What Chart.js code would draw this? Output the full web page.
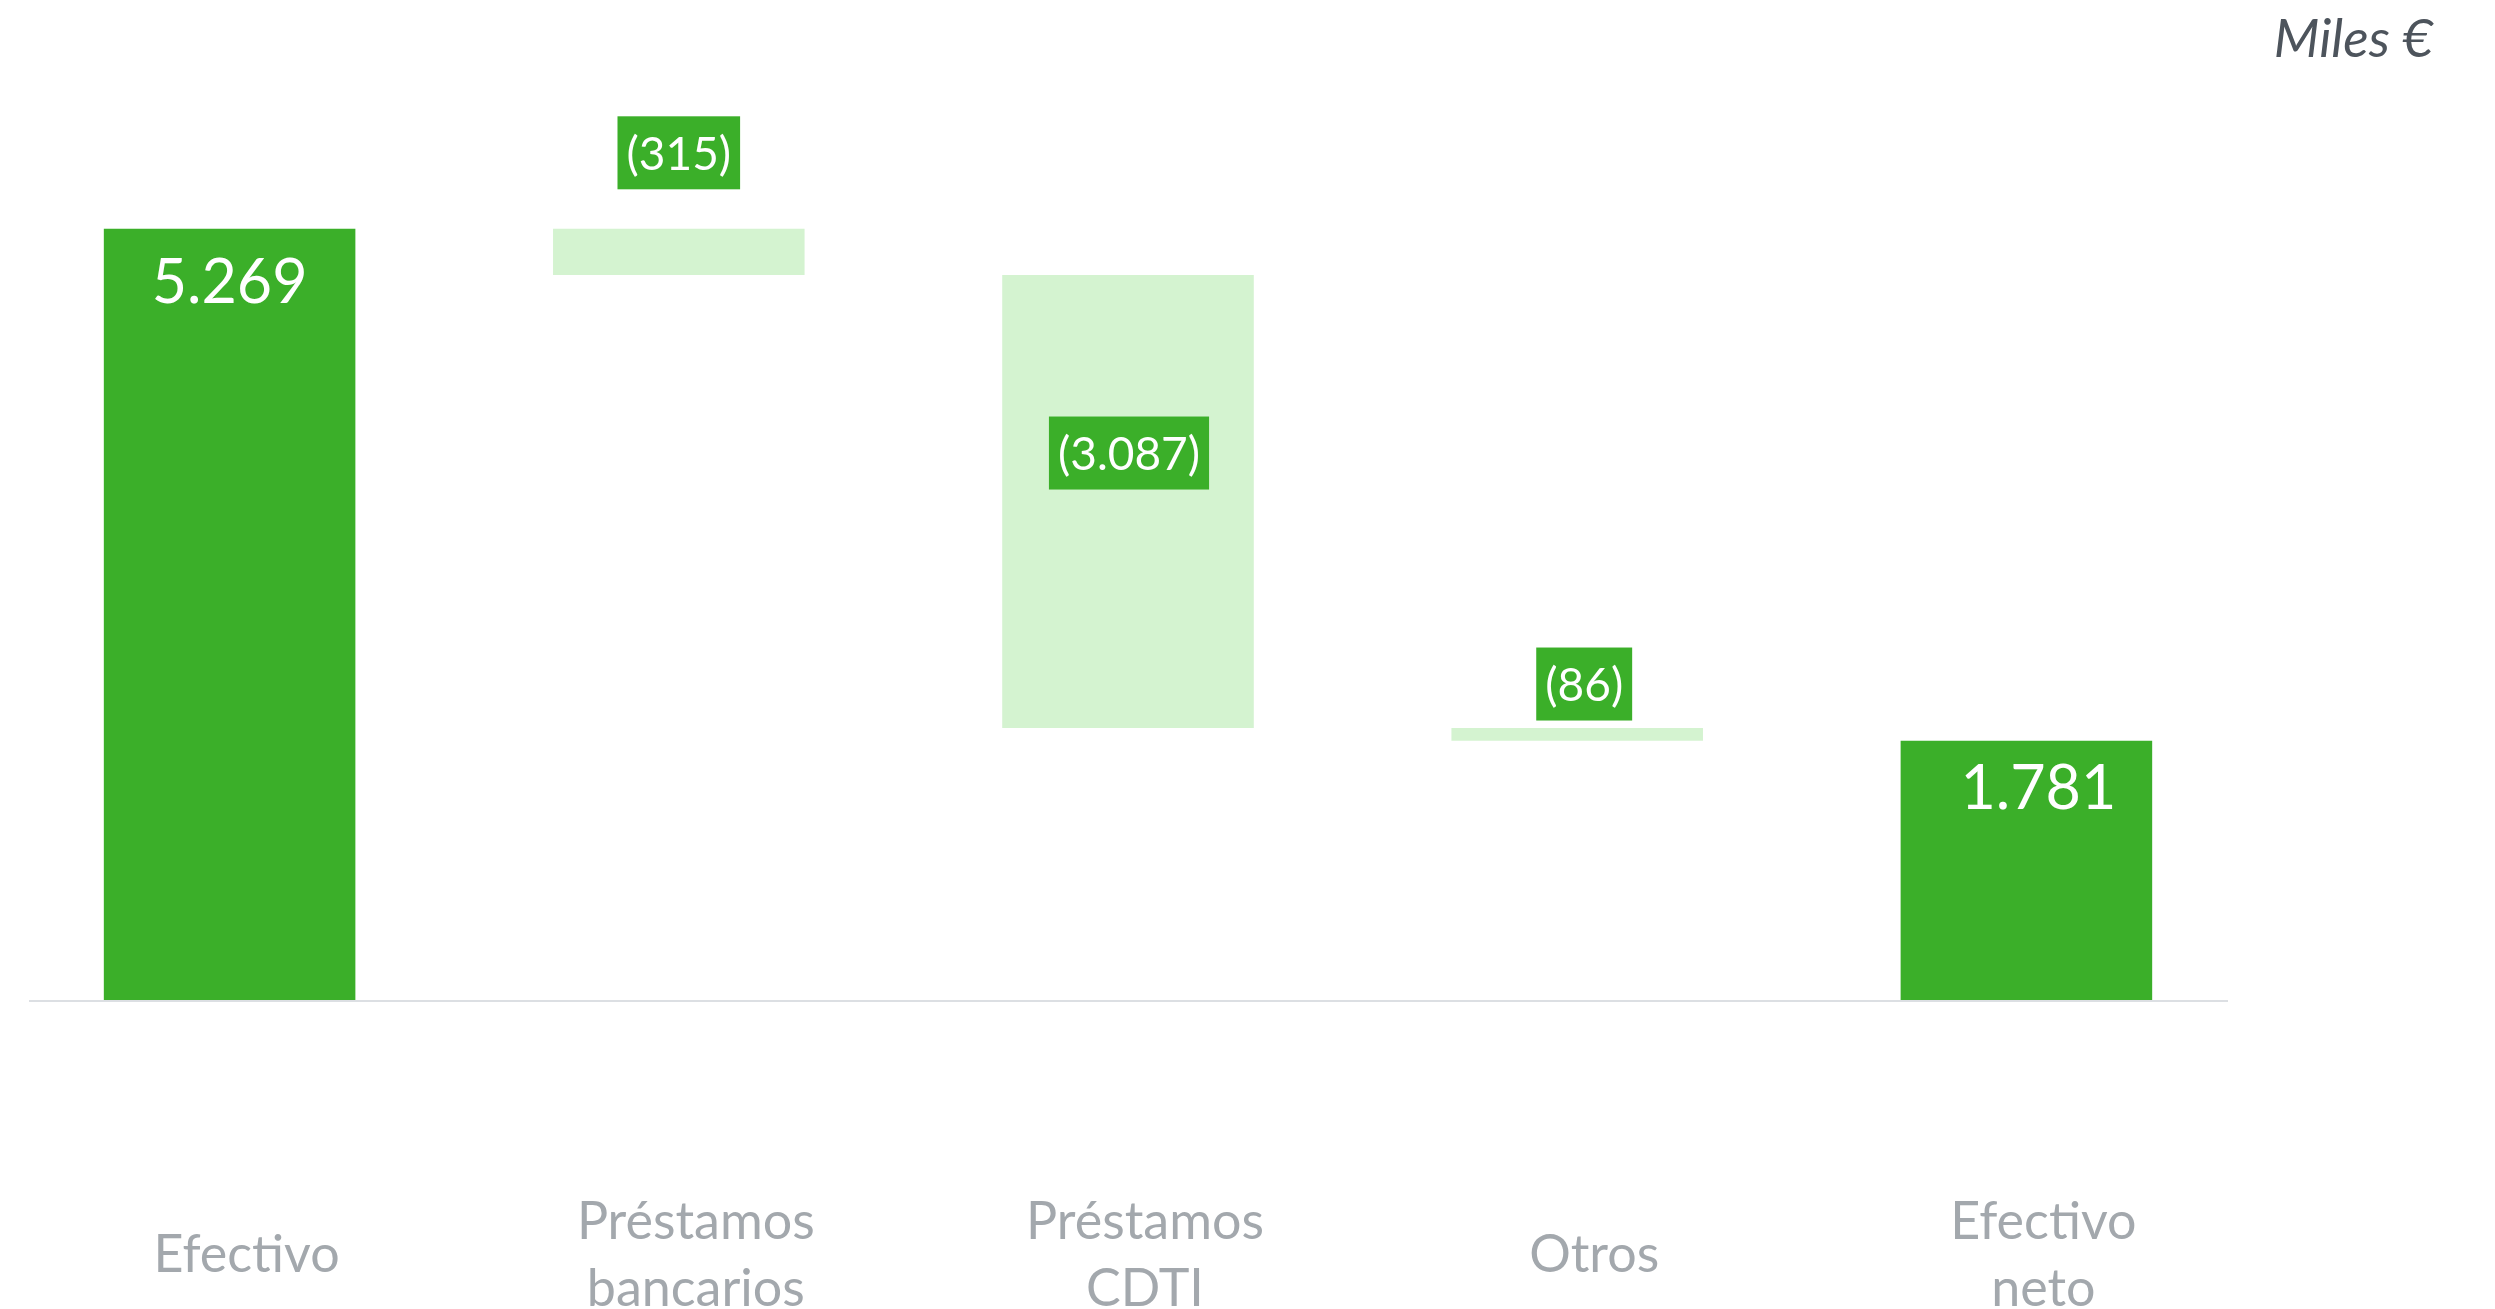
<!DOCTYPE html>
<html>
<head>
<meta charset="utf-8">
<script src="https://cdn.jsdelivr.net/npm/chart.js@4/dist/chart.umd.min.js"></script>
<style>
  html, body { margin: 0; padding: 0; background: #fff; overflow: hidden; }
  #wrap { width: 2495px; height: 1309px; position: relative; }
</style>
</head>
<body>
<div id="wrap"><canvas id="cashChart"></canvas></div>
<script>
// categorias (etiquetas del eje x, multilinea)
const categories = [
  ["Efectivo"],
  ["Préstamos", "bancarios"],
  ["Préstamos", "CDTI"],
  ["Otros"],
  ["Efectivo", "neto"]
];
// valores en miles de euros: total inicial, variaciones, total final
const values = [5269, -315, -3087, -86, 1781];
const isTotal = [true, false, false, false, true];
const valueLabels = ["5.269", "(315)", "(3.087)", "(86)", "1.781"];

const green = "#3BAF29";
const lightGreen = "#D4F3D0";

// construir barras flotantes de la cascada
let running = 0;
const floating = values.map(function(v, i) {
  if (isTotal[i]) {
    running = v;
    return [0, v];
  }
  const start = running;
  running = running + v;
  return [running, start];
});

// posicion de las etiquetas respecto a la parte superior de cada barra
const labelStyle = [
  { dy: 53, dx: 0, box: false, size: 61 },
  { dy: -76, dx: 0, box: true, size: 46 },
  { dy: 178, dx: 1, box: true, size: 46 },
  { dy: -44, dx: 7, box: true, size: 46 },
  { dy: 47, dx: 12, box: false, size: 61 }
];

const labelPlugin = {
  id: "labelPlugin",
  afterDraw(chart) {
    const ctx = chart.ctx;
    const area = chart.chartArea;
    ctx.save();
    // linea base
    const y0 = chart.scales.y.getPixelForValue(0);
    ctx.fillStyle = "#DCDFE3";
    ctx.fillRect(area.left + 24, y0 - 2, area.right - area.left - 47, 2);

    const bars = chart.getDatasetMeta(0).data;
    bars.forEach(function(bar, i) {
      const st = labelStyle[i];
      const top = Math.min(bar.y, bar.base);
      const cx = bar.x + st.dx;
      const cy = top + st.dy;
      ctx.font = st.size + "px Lato, 'Open Sans', sans-serif";
      ctx.textAlign = "center";
      ctx.textBaseline = "middle";
      if (st.box) {
        const w = ctx.measureText(valueLabels[i]).width + 18;
        ctx.fillStyle = green;
        ctx.fillRect(cx - w / 2, cy - 36.5, w, 73);
      }
      ctx.fillStyle = "#FFFFFF";
      ctx.fillText(valueLabels[i], cx, cy + 2);
    });

    // unidades
    ctx.font = "italic 53px Lato, 'Open Sans', sans-serif";
    ctx.fillStyle = "#4D545C";
    ctx.textAlign = "right";
    ctx.textBaseline = "middle";
    ctx.fillText("Miles €", 2433, 40);
    ctx.restore();
  }
};

const cashChart = new Chart(document.getElementById("cashChart"), {
  type: "bar",
  data: {
    labels: categories,
    datasets: [{
      data: floating,
      backgroundColor: isTotal.map(t => t ? green : lightGreen),
      borderWidth: 0,
      barPercentage: 0.56,
      categoryPercentage: 1.0
    }]
  },
  options: {
    responsive: true,
    maintainAspectRatio: false,
    animation: false,
    layout: { padding: { left: 5, right: 244, top: 123, bottom: 0 } },
    plugins: {
      legend: { display: false },
      tooltip: { enabled: false }
    },
    scales: {
      y: {
        display: false,
        min: 0,
        max: 5990
      },
      x: {
        grid: { display: false, drawTicks: false },
        border: { display: false },
        afterFit: function(scale) {
          scale.height = 307;
          scale.paddingLeft = 0;
          scale.paddingRight = 0;
        },
        ticks: {
          color: "#A3A8AD",
          font: { family: "Lato, 'Open Sans', sans-serif", size: 52, lineHeight: 1.29 },
          padding: 220,
          labelOffset: 17,
          crossAlign: "center",
          maxRotation: 0,
          autoSkip: false
        }
      }
    }
  },
  plugins: [labelPlugin]
});
</script>
</body>
</html>
